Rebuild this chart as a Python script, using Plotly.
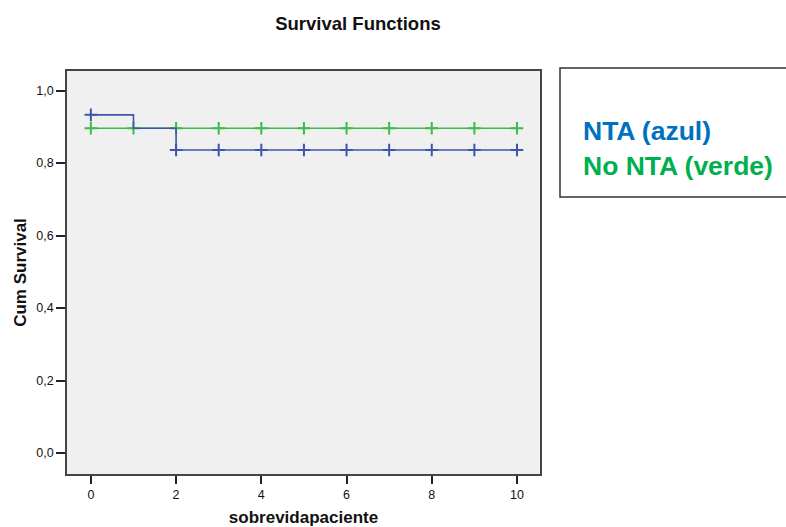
import plotly.graph_objects as go

# Kaplan-Meier step curves (time, cumulative survival)
nta_time = [0, 1, 2, 3, 4, 5, 6, 7, 8, 9, 10]
nta_surv = [0.933, 0.896, 0.836, 0.836, 0.836, 0.836, 0.836, 0.836, 0.836, 0.836, 0.836]
nta_censored = [0, 2, 3, 4, 5, 6, 7, 8, 9, 10]

no_nta_time = [0, 1, 2, 3, 4, 5, 6, 7, 8, 9, 10]
no_nta_surv = [0.896] * 11
no_nta_censored = [0, 1, 2, 3, 4, 5, 6, 7, 8, 9, 10]

x_ticks = [0, 2, 4, 6, 8, 10]
y_ticks = [0.0, 0.2, 0.4, 0.6, 0.8, 1.0]
y_tick_text = ["0,0", "0,2", "0,4", "0,6", "0,8", "1,0"]

BLUE_LINE = "#3E55AC"
GREEN_LINE = "#3DBB4A"
BLUE_TEXT = "#0070C0"
GREEN_TEXT = "#00B050"


def surv_at(times, surv, t):
    return surv[times.index(t)]


fig = go.Figure()

for times, surv, cens, color in [
    (no_nta_time, no_nta_surv, no_nta_censored, GREEN_LINE),
    (nta_time, nta_surv, nta_censored, BLUE_LINE),
]:
    fig.add_trace(go.Scatter(
        x=times, y=surv, mode="lines", line=dict(color=color, width=1.6, shape="hv"),
        hoverinfo="skip", showlegend=False,
    ))
    fig.add_trace(go.Scatter(
        x=cens, y=[surv_at(times, surv, t) for t in cens], mode="markers",
        marker=dict(symbol="cross-thin", size=9, line=dict(color=color, width=2)),
        showlegend=False,
    ))

font = "Liberation Sans, Arial, sans-serif"

fig.update_layout(
    width=786, height=527,
    margin=dict(l=67, r=246, t=71, b=53),
    paper_bgcolor="white",
    plot_bgcolor="#F0F0F0",
    font=dict(family=font, color="#222222", size=12),
    title=dict(text="<b>Survival Functions</b>", x=358 / 786, xanchor="center",
               y=1 - 24 / 527, yanchor="middle", font=dict(size=18.5, color="#111111")),
    xaxis=dict(
        range=[-0.56, 10.54], tickvals=x_ticks, ticks="outside", ticklen=8, tickwidth=1.5,
        tickcolor="#222222", showgrid=False, zeroline=False, showline=True,
        linecolor="#444444", linewidth=1.5, mirror=True, automargin=False,
        tickfont=dict(size=12.5, color="#111111"),
        title=dict(text="<b>sobrevidapaciente</b>", font=dict(size=17, color="#111111"), standoff=12),
    ),
    yaxis=dict(
        range=[-0.058, 1.054], tickvals=y_ticks, ticktext=y_tick_text, ticks="outside",
        ticklen=9, tickwidth=1.5, tickcolor="#222222", showgrid=False, zeroline=False,
        showline=True, linecolor="#444444", linewidth=1.5, mirror=True, automargin=False,
        tickfont=dict(size=12.5, color="#111111"),
        title=dict(text="<b>Cum Survival</b>", font=dict(size=17, color="#111111"), standoff=5),
    ),
)

# Group key box on the right
fig.add_shape(type="rect", xref="paper", yref="paper",
              x0=(560 - 67) / 473, x1=(792 - 67) / 473,
              y0=(474 - 197) / 403, y1=(474 - 68) / 403,
              line=dict(color="#333333", width=1.5), fillcolor="white")
fig.add_annotation(text="<b>NTA (azul)</b>", xref="paper", yref="paper",
                   x=(581 - 67) / 473, y=(474 - 131) / 403, xanchor="left", yanchor="middle",
                   showarrow=False, font=dict(size=26.5, color=BLUE_TEXT, family=font))
fig.add_annotation(text="<b>No NTA (verde)</b>", xref="paper", yref="paper",
                   x=(581 - 67) / 473, y=(474 - 166) / 403, xanchor="left", yanchor="middle",
                   showarrow=False, font=dict(size=26.5, color=GREEN_TEXT, family=font))

fig.write_html("out.html")
